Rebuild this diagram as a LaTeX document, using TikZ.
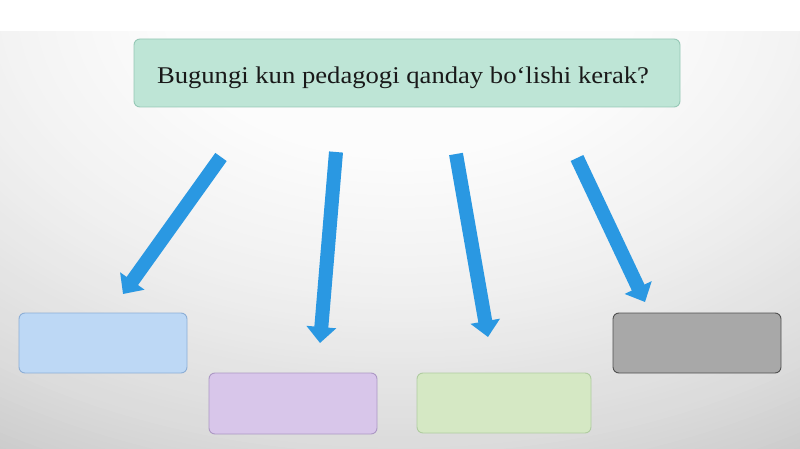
\documentclass[tikz,border=0pt]{standalone}
\usepackage{fontspec}
\setmainfont{Liberation Serif}
\newfontfamily\titlefont[FakeStretch=1.11]{Liberation Serif}
\usetikzlibrary{arrows.meta}
\definecolor{topfill}{RGB}{190,229,214}
\definecolor{topdraw}{RGB}{150,200,182}
\definecolor{bluefill}{RGB}{189,216,245}
\definecolor{bluedraw}{RGB}{140,174,214}
\definecolor{purpfill}{RGB}{216,198,234}
\definecolor{purpdraw}{RGB}{172,152,196}
\definecolor{greenfill}{RGB}{213,232,196}
\definecolor{greendraw}{RGB}{176,204,160}
\definecolor{grayfill}{RGB}{168,168,168}
\definecolor{graydraw}{RGB}{80,80,80}
\definecolor{arrowblue}{RGB}{42,152,226}
\definecolor{textdark}{RGB}{25,25,25}
\tikzset{
  box/.style={rectangle, rounded corners=6pt, line width=0.9pt, inner sep=0pt},
  bigarrow/.style={draw=arrowblue, line width=14pt, -{Triangle[length=16pt,width=29pt,fill=arrowblue]}}
}
\begin{document}
\begin{tikzpicture}[x=1pt,y=-1pt]
\useasboundingbox (0,0) rectangle (800,449);
\clip (0,0) rectangle (800,449);
% background: soft elliptical gradient, light at top centre, grey towards the bottom corners
\fill[black!22] (0,0) rectangle (800,449);
\foreach \r in {580,574,...,150}{
  \pgfmathsetmacro{\p}{1+max(0,min(\r,300)-150)*5/150+max(0,min(\r,450)-300)*8/150+max(0,min(\r,550)-450)*8/100}
  \fill[black!\p] (400,0) ellipse[x radius=1.5*\r pt, y radius=\r pt];
}
\fill[white] (0,0) rectangle (800,31);

\node[box, fill=topfill, draw=topdraw, minimum width=546pt, minimum height=68pt] (top) at (407,73) {};
\node[anchor=base, text=textdark, font=\titlefont\fontsize{24}{28}\selectfont, inner sep=0pt] (toptext) at (403,83.5) {Bugungi kun pedagogi qanday bo‘lishi kerak?};

\node[box, fill=bluefill, draw=bluedraw, minimum width=168pt, minimum height=60pt] (b1) at (103,343) {};
\node[box, fill=purpfill, draw=purpdraw, minimum width=168pt, minimum height=61pt] (b2) at (293,403.5) {};
\node[box, fill=greenfill, draw=greendraw, minimum width=174pt, minimum height=60pt] (b3) at (504,403) {};
\node[box, fill=grayfill, draw=graydraw, minimum width=168pt, minimum height=60pt] (b4) at (697,343) {};

\coordinate (t1) at (221,157);
\coordinate (h1) at (123,294);
\coordinate (t2) at (336,152);
\coordinate (h2) at (320,343);
\coordinate (t3) at (456,154);
\coordinate (h3) at (488,337);
\coordinate (t4) at (577,158);
\coordinate (h4) at (645,302);

\draw[bigarrow] (t1) -- (h1);
\draw[bigarrow] (t2) -- (h2);
\draw[bigarrow] (t3) -- (h3);
\draw[bigarrow] (t4) -- (h4);
\end{tikzpicture}
\end{document}
